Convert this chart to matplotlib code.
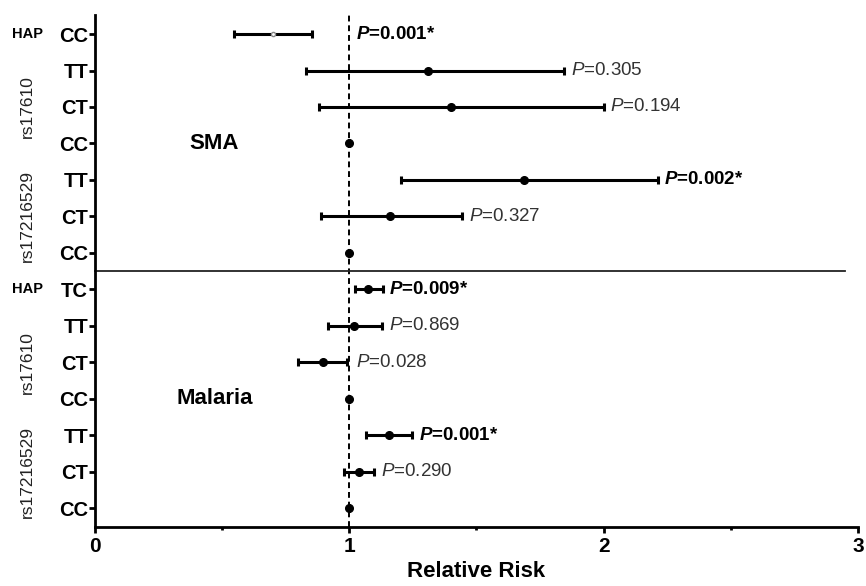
import matplotlib
matplotlib.use("Agg")
import matplotlib.pyplot as plt
from matplotlib.ticker import MultipleLocator

plt.rcParams['font.family'] = ['Liberation Sans', 'DejaVu Sans']
plt.rcParams['mathtext.fontset'] = 'custom'
plt.rcParams['mathtext.rm'] = 'Liberation Sans'
plt.rcParams['mathtext.it'] = 'Liberation Sans:italic'
plt.rcParams['mathtext.bf'] = 'Liberation Sans:bold'
plt.rcParams['mathtext.bfit'] = 'Liberation Sans:italic:bold'

# genotype rows, top to bottom (SMA block then Malaria block)
genotypes = ['CC', 'TT', 'CT', 'CC', 'TT', 'CT', 'CC',
             'TC', 'TT', 'CT', 'CC', 'TT', 'CT', 'CC']

# relative risk and 95% CI
rr = [0.70, 1.31, 1.40, 1.00, 1.685, 1.16, 1.00,
      1.075, 1.02, 0.895, 1.00, 1.155, 1.04, 1.00]
ci_low = [0.545, 0.83, 0.88, 1.00, 1.205, 0.89, 1.00,
          1.022, 0.915, 0.80, 1.00, 1.065, 0.978, 1.00]
ci_high = [0.853, 1.845, 2.00, 1.00, 2.213, 1.445, 1.00,
           1.132, 1.13, 0.992, 1.00, 1.248, 1.098, 1.00]

# p values (None = reference genotype)
p_text = ['0.001*', '0.305', '0.194', None, '0.002*', '0.327', None,
          '0.009*', '0.869', '0.028', None, '0.001*', '0.290', None]
p_signif = [True, False, False, False, True, False, False,
            True, False, False, False, True, False, False]

# group labels: (text, row, rotated)
groups = [('HAP', 0, False), ('rs17610', 2, True), ('rs17216529', 5, True),
          ('HAP', 7, False), ('rs17610', 9, True), ('rs17216529', 12, True)]
panels = [('SMA', 3), ('Malaria', 10)]

fig = plt.figure(figsize=(8.66, 5.86), dpi=100)
ax = fig.add_axes([0.1097, 0.1007, 0.881, 0.8735])

rows = list(range(len(genotypes)))

# error bars (first SMA HAP point is drawn as a tiny open dot)
for i in rows:
    err = [[rr[i] - ci_low[i]], [ci_high[i] - rr[i]]]
    if i == 0:
        ax.errorbar(rr[i], i, xerr=err, fmt='o', ms=3, mfc='white', mec='#888888',
                    ecolor='black', elinewidth=2.2, capsize=3, capthick=2.2, zorder=3)
    else:
        ax.errorbar(rr[i], i, xerr=err, fmt='o', ms=5.5, color='black',
                    elinewidth=2.2, capsize=3, capthick=2.2, zorder=3)

# p value labels
for i in rows:
    if p_text[i] is None:
        continue
    tx = max(ci_high[i], 1.0) + 0.025
    if p_signif[i]:
        ax.text(tx, i, r'$\mathbfit{P}$=' + p_text[i], fontsize=13.5,
                fontweight='bold', color='black', va='center', ha='left')
    else:
        ax.text(tx, i, r'$\mathit{P}$=' + p_text[i], fontsize=13.5,
                color='#333333', va='center', ha='left')

# reference line and divider between SMA / Malaria
ax.axvline(1, color='black', lw=1.4, ls=(0, (3, 2)), zorder=1)
ax.plot([0, 2.95], [6.5, 6.5], color='#222222', lw=1.3, clip_on=False)

for name, r in panels:
    ax.text(0.47, r, name, fontsize=16, fontweight='bold', ha='center', va='center')

# group labels to the left of the genotype ticks
for name, r, rot in groups:
    if rot:
        ax.text(-0.088, r, name, fontsize=12.5, rotation=90, ha='center', va='center',
                color='#222222', transform=ax.get_yaxis_transform())
    else:
        ax.text(-0.088, r, name, fontsize=10.5, fontweight='bold', ha='center',
                va='center', transform=ax.get_yaxis_transform())

ax.set_xlim(0, 3)
ax.set_ylim(13.52, -0.52)
ax.set_yticks(rows)
ax.set_yticklabels(genotypes, fontsize=14.5, fontweight='bold')
ax.xaxis.set_major_locator(MultipleLocator(1))
ax.xaxis.set_minor_locator(MultipleLocator(0.5))
for lab in ax.get_xticklabels():
    lab.set_fontweight('bold')
    lab.set_fontsize(15)
ax.tick_params(axis='x', which='major', length=4, width=2, pad=3)
ax.tick_params(axis='x', which='minor', length=2.5, width=2)
ax.tick_params(axis='y', length=4, width=2, pad=1)
ax.set_xlabel('Relative Risk', fontsize=16, fontweight='bold', labelpad=4)

ax.spines['top'].set_visible(False)
ax.spines['right'].set_visible(False)
ax.spines['left'].set_linewidth(2)
ax.spines['bottom'].set_linewidth(2)

fig.savefig('out.png', dpi=100)
